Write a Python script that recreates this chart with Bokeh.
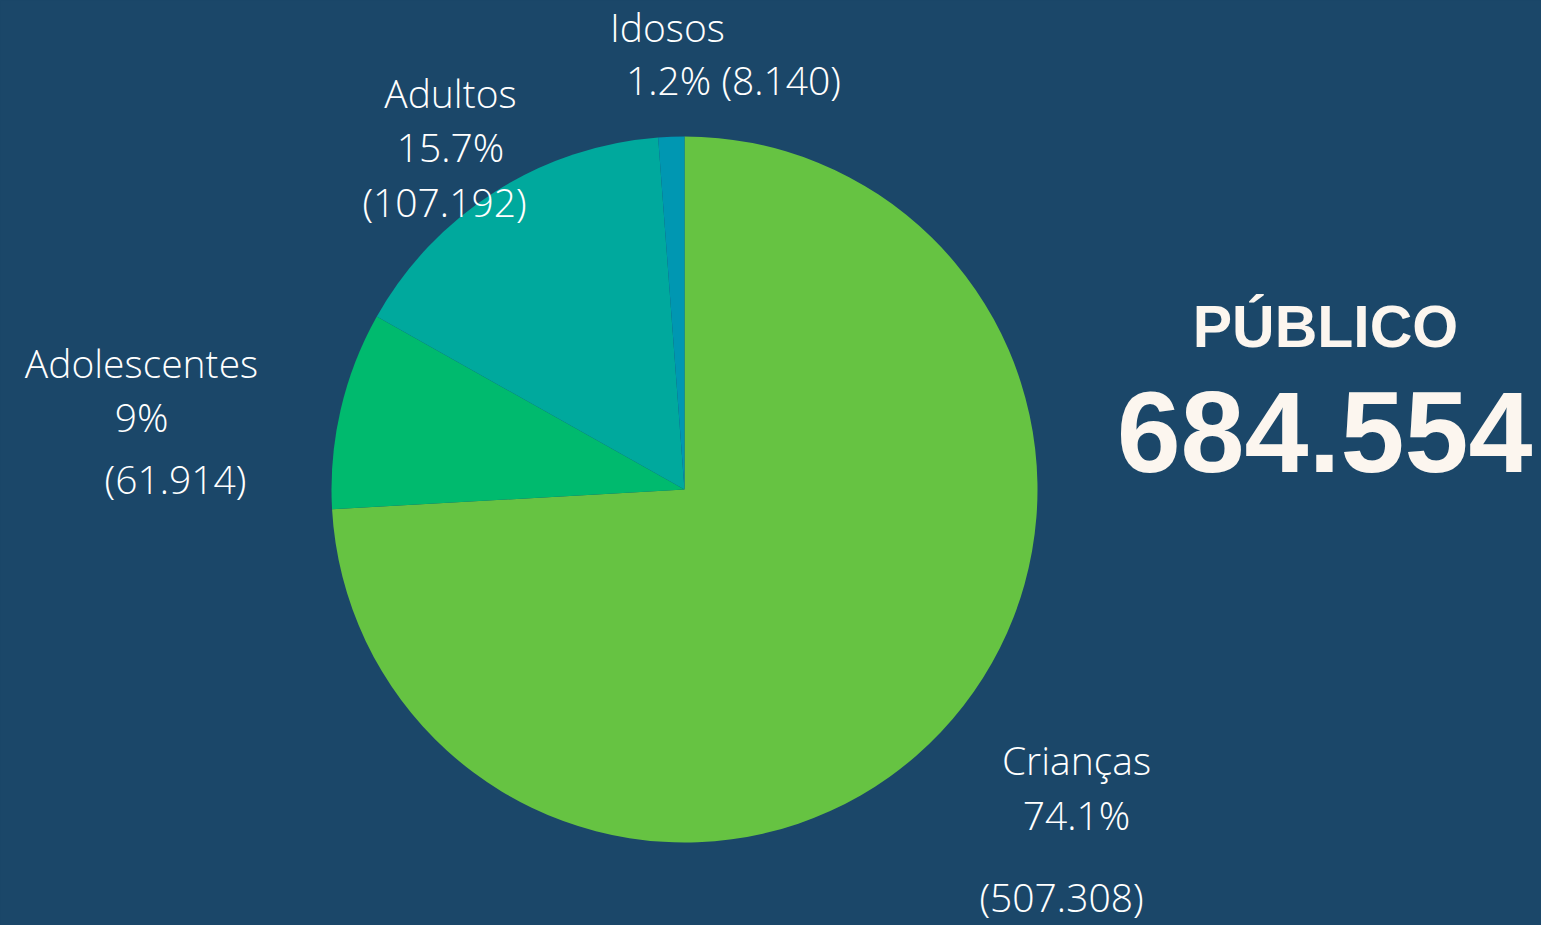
import math
from bokeh.plotting import figure
from bokeh.models import ColumnDataSource, Range1d
from bokeh.core.properties import value
from bokeh.embed import file_html
from bokeh.resources import INLINE
from bokeh.core.templates import get_env

# ---- data ----
categories = ["Crianças", "Adolescentes", "Adultos", "Idosos"]
counts = [507308, 61914, 107192, 8140]
pct_labels = ["74.1%", "9%", "15.7%", "1.2%"]
count_labels = ["(507.308)", "(61.914)", "(107.192)", "(8.140)"]
colors = ["#66C342", "#00BA6E", "#00A99D", "#0097B2"]
total_label = "684.554"
title_label = "PÚBLICO"

W, H = 1541, 925
BG = "#1B4769"

total = sum(counts)
starts, ends = [], []
cum = 0.0
for c in counts:
    starts.append(math.pi / 2 - 2 * math.pi * cum / total)
    cum += c
    ends.append(math.pi / 2 - 2 * math.pi * cum / total)

src = ColumnDataSource(dict(cat=categories, start=starts, end=ends, color=colors))

p = figure(width=W, height=H, output_backend="svg", toolbar_location=None,
           x_range=Range1d(0, W), y_range=Range1d(0, H), min_border=0,
           background_fill_color=BG, border_fill_color=BG)
p.axis.visible = False
p.xgrid.visible = False
p.ygrid.visible = False
p.outline_line_color = None

cx, cy, r = 684, H - 489, 353
p.wedge(x=cx, y=cy, radius=r, start_angle="start", end_angle="end",
        direction="clock", fill_color="color", line_color=None, source=src)

LF = value("Open Sans Light")
LS = 39
TC = "#FFFFFF"

def lbl(x, y, t):
    y = y - 0.36 * LS - 2
    p.text(x=[x], y=[H - y], text=[t], text_font=LF, text_font_size=f"{LS}px",
           text_color=TC, text_align="center", text_baseline="alphabetic")

# Idosos
lbl(667, 42, categories[3])
lbl(733, 95, pct_labels[3] + " " + count_labels[3])
# Adultos
lbl(450, 108, categories[2])
lbl(450, 162, pct_labels[2])
lbl(444, 217, count_labels[2])
# Adolescentes
lbl(141, 378, categories[1])
lbl(141, 432, pct_labels[1])
lbl(175, 494, count_labels[1])
# Crianças
lbl(1076, 775, categories[0])
lbl(1076, 830, pct_labels[0])
lbl(1061, 912, count_labels[0])

HF = value("Liberation Sans")
ts, ns = 59, 115
p.text(x=[1325], y=[H - (348 - 0.36 * ts)], text=[title_label], text_font=HF,
       text_font_size=f"{ts}px", text_font_style="bold", text_color="#FCF6EF",
       text_align="center", text_baseline="alphabetic")
p.text(x=[1324], y=[H - (473 - 0.36 * ns)], text=[total_label], text_font=HF,
       text_font_size=f"{ns}px", text_font_style="bold", text_color="#FCF6EF",
       text_align="center", text_baseline="alphabetic")

tmpl = get_env().from_string(
    '{% extends "file.html" %}{% block preamble %}'
    '<style>html,body{margin:0;padding:0;background:' + BG + ';overflow:hidden}</style>'
    '{% endblock %}')

open("out.html", "w").write(file_html(p, INLINE, template=tmpl))
